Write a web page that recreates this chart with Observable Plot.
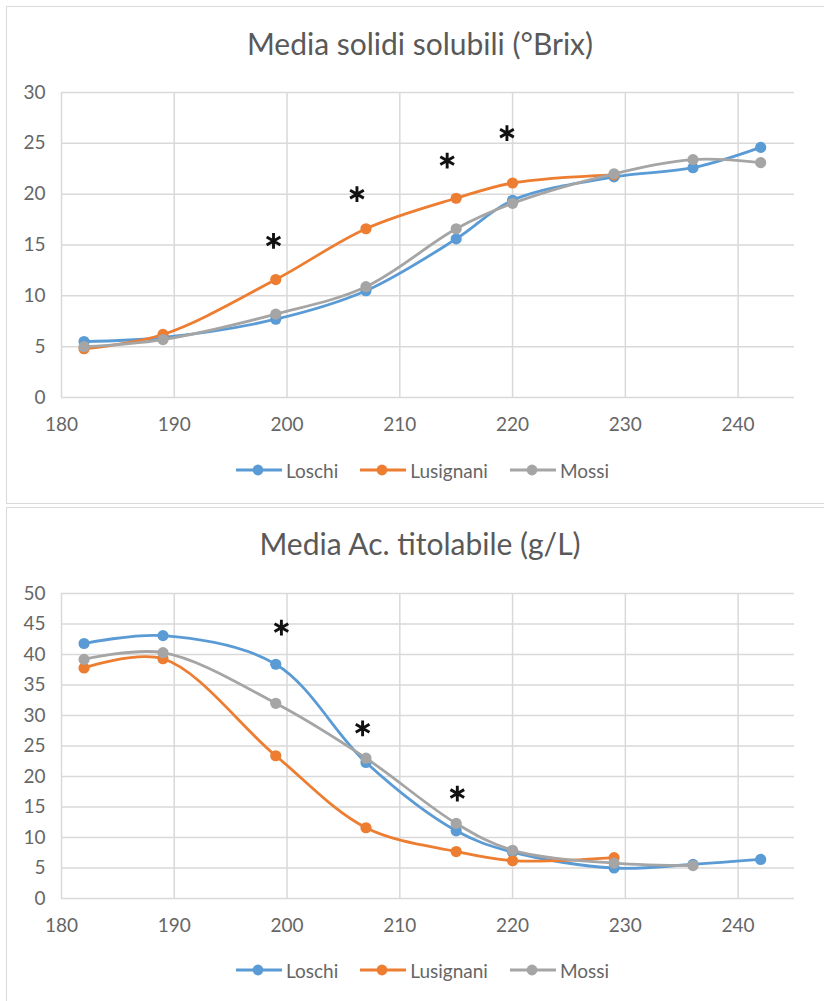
<!DOCTYPE html>
<html>
<head>
<meta charset="utf-8">
<script src="https://cdn.jsdelivr.net/npm/d3@7"></script>
<script src="https://cdn.jsdelivr.net/npm/@observablehq/plot@0.6"></script>
<style>
  html, body { margin: 0; padding: 0; background: #fff; }
  body { width: 824px; height: 1001px; position: relative; overflow: hidden; font-family: Lato, "Open Sans", sans-serif; }
  .panel { position: absolute; left: 6px; width: 840px; border: 1.5px solid #d9d9d9; box-sizing: border-box; background: #fff; }
  .title { position: absolute; left: 0; width: 840px; text-align: center; font-size: 30px; line-height: 1; color: #595959; white-space: nowrap; }
  .chart { position: absolute; left: 0; }
  .legend { position: absolute; left: 0; width: 845px; display: flex; justify-content: center; align-items: center; font-size: 19px; color: #666; line-height: 1; }
  .item { display: flex; align-items: center; margin: 0 11px; }
  .item svg { margin-right: 4px; }
</style>
</head>
<body>
<script>
// ---- data ----
const days = [182, 189, 199, 207, 215, 220, 229, 236, 242];
const seriesNames = ["Loschi", "Lusignani", "Mossi"];
const seriesColors = ["#5B9BD5", "#ED7D31", "#A5A5A5"];

const brixLoschi    = [5.5, 5.9, 7.7, 10.5, 15.6, 19.4, 21.7, 22.6, 24.6];
const brixLusignani = [4.8, 6.2, 11.6, 16.6, 19.6, 21.1, 21.9, null, null];
const brixMossi     = [5.0, 5.7, 8.2, 10.9, 16.6, 19.1, 22.0, 23.4, 23.1];
const brixStarX = [198.8, 206.2, 214.2, 219.5];
const brixStarY = [15.4, 20.0, 23.3, 26.0];

const acLoschi    = [41.8, 43.1, 38.4, 22.3, 11.1, 7.6, 5.0, 5.6, 6.4];
const acLusignani = [37.8, 39.3, 23.4, 11.6, 7.7, 6.2, 6.7, null, null];
const acMossi     = [39.2, 40.3, 32.0, 23.0, 12.3, 7.9, 5.8, 5.4, null];
const acStarX = [199.5, 206.7, 215.1];
const acStarY = [44.4, 27.9, 17.2];

const xTicks = [180, 190, 200, 210, 220, 230, 240];
const brixTicks = [0, 5, 10, 15, 20, 25, 30];
const acTicks = [0, 5, 10, 15, 20, 25, 30, 35, 40, 45, 50];

// ---- helpers ----
function rowsFrom(arrays) {
  const rows = [];
  arrays.forEach((arr, i) => {
    arr.forEach((v, j) => {
      if (v != null) rows.push({series: seriesNames[i], day: days[j], value: v});
    });
  });
  return rows;
}
function starsFrom(xs, ys) { return xs.map((x, i) => ({x, y: ys[i]})); }

function makeChart({rows, stars, yDomain, yTicks, marginTop, marginBottom, height}) {
  const grid = {stroke: "#d9d9d9", strokeOpacity: 1, strokeWidth: 1.5};
  const seriesMarks = seriesNames.flatMap(name => {
    const d = rows.filter(r => r.series === name);
    return [
      Plot.line(d, {x: "day", y: "value", stroke: "series", curve: "catmull-rom", strokeWidth: 2.8}),
      Plot.dot(d, {x: "day", y: "value", fill: "series", r: 5.6})
    ];
  });
  return Plot.plot({
    width: 824,
    height,
    marginLeft: 61,
    marginRight: 30,
    marginTop,
    marginBottom,
    x: {domain: [180, 245]},
    y: {domain: yDomain},
    color: {domain: seriesNames, range: seriesColors},
    style: {fontFamily: "Lato, 'Open Sans', sans-serif", fontSize: "19px", color: "#666", background: "transparent", overflow: "visible"},
    marks: [
      Plot.gridX(xTicks, grid),
      Plot.gridY(yTicks, grid),
      Plot.axisX(xTicks, {tickSize: 0, tickPadding: 20, label: null, fontSize: 19}),
      Plot.axisY(yTicks, {tickSize: 0, tickPadding: 16, label: null, fontSize: 19}),
      ...seriesMarks,
      Plot.dot(stars, {x: "x", y: "y", symbol: "asterisk", r: 7.5, stroke: "#111", strokeWidth: 2.9})
    ]
  });
}

function makeLegend(top) {
  const div = document.createElement("div");
  div.className = "legend";
  div.style.top = (top - 10) + "px";
  div.style.height = "20px";
  seriesNames.forEach((name, i) => {
    const item = document.createElement("div");
    item.className = "item";
    item.innerHTML =
      `<svg width="46" height="14" viewBox="0 0 46 14"><line x1="0" x2="46" y1="7" y2="7" stroke="${seriesColors[i]}" stroke-width="2.8"/><circle cx="22" cy="7" r="5.4" fill="${seriesColors[i]}"/></svg><span>${name}</span>`;
    div.appendChild(item);
  });
  return div;
}

function addTitle(text, top) {
  const t = document.createElement("div");
  t.className = "title";
  t.style.top = top + "px";
  t.textContent = text;
  document.body.appendChild(t);
}

// ---- panels ----
const p1 = document.createElement("div");
p1.className = "panel"; p1.style.top = "6px"; p1.style.height = "498px";
document.body.appendChild(p1);
const p2 = document.createElement("div");
p2.className = "panel"; p2.style.top = "507px"; p2.style.height = "520px";
document.body.appendChild(p2);

addTitle("Media solidi solubili (°Brix)", 28);
addTitle("Media Ac. titolabile (g/L)", 528);

const c1 = makeChart({
  rows: rowsFrom([brixLoschi, brixLusignani, brixMossi]),
  stars: starsFrom(brixStarX, brixStarY),
  yDomain: [0, 30], yTicks: brixTicks,
  height: 390, marginTop: 32, marginBottom: 53
});
c1.classList.add("chart"); c1.style.position = "absolute"; c1.style.top = "60px"; c1.style.left = "0px";
document.body.appendChild(c1);

const c2 = makeChart({
  rows: rowsFrom([acLoschi, acLusignani, acMossi]),
  stars: starsFrom(acStarX, acStarY),
  yDomain: [0, 50], yTicks: acTicks,
  height: 390, marginTop: 33, marginBottom: 52
});
c2.classList.add("chart"); c2.style.position = "absolute"; c2.style.top = "560px"; c2.style.left = "0px";
document.body.appendChild(c2);

document.body.appendChild(makeLegend(470));
document.body.appendChild(makeLegend(970));
</script>
</body>
</html>
